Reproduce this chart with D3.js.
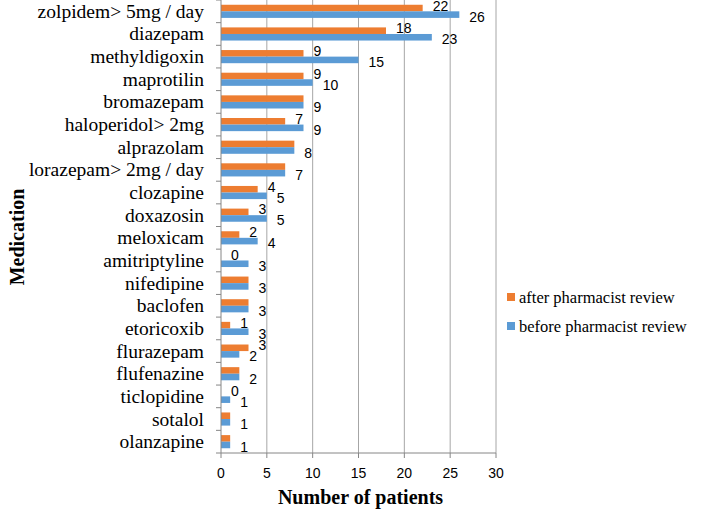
<!DOCTYPE html>
<html>
<head>
<meta charset="utf-8">
<script src="https://cdn.jsdelivr.net/npm/d3@7"></script>
<style>
  body { margin: 0; background: #fff; }
</style>
</head>
<body>
<div id="chart"></div>
<script>
const medications = [
  'zolpidem> 5mg / day', 'diazepam', 'methyldigoxin', 'maprotilin', 'bromazepam',
  'haloperidol> 2mg', 'alprazolam', 'lorazepam> 2mg / day', 'clozapine', 'doxazosin',
  'meloxicam', 'amitriptyline', 'nifedipine', 'baclofen', 'etoricoxib',
  'flurazepam', 'flufenazine', 'ticlopidine', 'sotalol', 'olanzapine'
]
const afterReview = [22, 18, 9, 9, 9, 7, 8, 7, 4, 3, 2, 0, 3, 3, 1, 3, 2, 0, 1, 1]
const beforeReview = [26, 23, 15, 10, 9, 9, 8, 7, 5, 5, 4, 3, 3, 3, 3, 2, 2, 1, 1, 1]
const seriesNames = ['after pharmacist review', 'before pharmacist review']
const xTicks = [0, 5, 10, 15, 20, 25, 30]

const margin = { top: 0, left: 221, right: 213, bottom: 57 }
const width = 709 - margin.left - margin.right
const height = 510 - margin.top - margin.bottom

const colors = { after: '#ed7d31', before: '#5b9bd5' }

const svg = d3
  .select('#chart')
  .append('svg')
  .attr('width', 709)
  .attr('height', 510)
  .append('g')
  .attr('transform', `translate(${margin.left},${margin.top})`)

const x = d3.scaleLinear().domain([0, 30]).range([0, width])
const y = d3
  .scaleBand()
  .domain(medications)
  .range([0, height])
  .paddingInner(0.42)
  .paddingOuter(0.21)
const ySub = d3
  .scaleBand()
  .domain(['after', 'before'])
  .range([0, y.bandwidth()])

const rows = medications.map((m, i) => ({
  name: m,
  after: afterReview[i],
  before: beforeReview[i]
}))

// vertical gridlines
svg
  .selectAll('.grid')
  .data(xTicks.slice(1))
  .enter()
  .append('line')
  .attr('x1', d => x(d))
  .attr('x2', d => x(d))
  .attr('y1', 0)
  .attr('y2', height)
  .attr('stroke', '#a6a6a6')
  .attr('stroke-width', 1)

// bars
const groups = svg
  .selectAll('.row')
  .data(rows)
  .enter()
  .append('g')
  .attr('transform', d => `translate(0,${y(d.name)})`)

groups
  .selectAll('rect')
  .data(d => ['after', 'before'].map(k => ({ key: k, value: d[k] })))
  .enter()
  .append('rect')
  .attr('x', 0)
  .attr('y', d => ySub(d.key))
  .attr('height', ySub.bandwidth())
  .attr('width', d => x(d.value))
  .attr('fill', d => colors[d.key])

// value labels (orange label hidden when it equals blue one)
groups
  .selectAll('.val')
  .data(d =>
    ['after', 'before']
      .filter(k => k === 'before' || d.after !== d.before)
      .map(k => ({ key: k, value: d[k] }))
  )
  .enter()
  .append('text')
  .attr('x', d => x(d.value) + 10)
  .attr('y', d => ySub(d.key) + ySub.bandwidth() / 2 + (d.key === 'after' ? -2.5 : 2))
  .attr('dominant-baseline', 'central')
  .attr('font-family', 'Liberation Sans, Arial, sans-serif')
  .attr('font-size', 14)
  .attr('fill', '#000')
  .text(d => d.value)

// y axis
svg
  .append('line')
  .attr('x1', 0)
  .attr('x2', 0)
  .attr('y1', 0)
  .attr('y2', height)
  .attr('stroke', '#868686')

const step = height / medications.length
svg
  .selectAll('.ytick')
  .data(d3.range(medications.length + 1))
  .enter()
  .append('line')
  .attr('x1', -5)
  .attr('x2', 0)
  .attr('y1', d => d * step)
  .attr('y2', d => d * step)
  .attr('stroke', '#868686')

svg
  .selectAll('.ylabel')
  .data(medications)
  .enter()
  .append('text')
  .attr('x', -17)
  .attr('y', d => y(d) + y.bandwidth() / 2)
  .attr('text-anchor', 'end')
  .attr('dominant-baseline', 'central')
  .attr('font-family', 'Liberation Serif, Times New Roman, serif')
  .attr('font-size', 19.5)
  .text(d => d)

// x axis
svg
  .append('line')
  .attr('x1', 0)
  .attr('x2', width)
  .attr('y1', height)
  .attr('y2', height)
  .attr('stroke', '#868686')

svg
  .selectAll('.xtick')
  .data(xTicks)
  .enter()
  .append('line')
  .attr('x1', d => x(d))
  .attr('x2', d => x(d))
  .attr('y1', height)
  .attr('y2', height + 5)
  .attr('stroke', '#868686')

svg
  .selectAll('.xlabel')
  .data(xTicks)
  .enter()
  .append('text')
  .attr('x', d => x(d))
  .attr('y', height + 20)
  .attr('text-anchor', 'middle')
  .attr('dominant-baseline', 'central')
  .attr('font-family', 'Liberation Sans, Arial, sans-serif')
  .attr('font-size', 14)
  .text(d => d)

// axis titles
svg
  .append('text')
  .attr('x', width / 2 + 2)
  .attr('y', height + 44)
  .attr('text-anchor', 'middle')
  .attr('dominant-baseline', 'central')
  .attr('font-family', 'Liberation Serif, Times New Roman, serif')
  .attr('font-weight', 'bold')
  .attr('font-size', 20)
  .text('Number of patients')

svg
  .append('text')
  .attr('transform', `translate(${17 - margin.left},${237}) rotate(-90)`)
  .attr('text-anchor', 'middle')
  .attr('dominant-baseline', 'central')
  .attr('font-family', 'Liberation Serif, Times New Roman, serif')
  .attr('font-weight', 'bold')
  .attr('font-size', 20)
  .text('Medication')

// legend
const legend = svg
  .selectAll('.legend')
  .data(seriesNames)
  .enter()
  .append('g')
  .attr('transform', (d, i) => `translate(${507 - margin.left},${297 + i * 29})`)

legend
  .append('rect')
  .attr('x', 0)
  .attr('y', -4)
  .attr('width', 8)
  .attr('height', 8)
  .attr('fill', (d, i) => (i === 0 ? colors.after : colors.before))

legend
  .append('text')
  .attr('x', 12)
  .attr('y', 0)
  .attr('dominant-baseline', 'central')
  .attr('font-family', 'Liberation Serif, Times New Roman, serif')
  .attr('font-size', 16.5)
  .text(d => d)
</script>
</body>
</html>
